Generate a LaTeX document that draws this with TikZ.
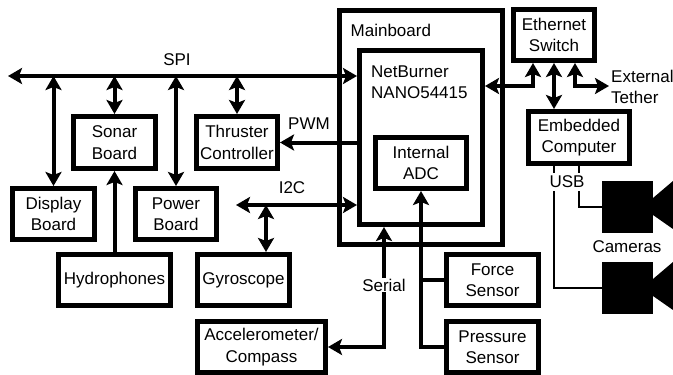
\documentclass[tikz,border=0pt]{standalone}
\usepackage{fontspec}
\setmainfont{Liberation Sans}
\usetikzlibrary{arrows.meta}
\tikzset{
 blockbox/.style={draw, line width=5, align=center, inner sep=0, font=\fontsize{17}{21.5}\selectfont},
 tag/.style={inner sep=1, align=left, font=\fontsize{17}{21.5}\selectfont},
 link/.style={line width=4, >={Stealth[length=14pt,width=16pt,inset=3pt]}},
 usbline/.style={line width=2.5},
}
\begin{document}
\begin{tikzpicture} [x=1pt, y=-1pt]
\useasboundingbox (0,0) rectangle (673,375);
\node[blockbox, minimum width=163, minimum height=234.5] (mainboard) at (421,127.5) {};
\node[blockbox, minimum width=123, minimum height=174] (netburner) at (421,137.5) {};
\node[blockbox, minimum width=91, minimum height=51] (adc) at (421,163) {Internal\\ADC};
\node[tag, anchor=west] (mainlabel) at (349.5,30) {Mainboard};
\node[tag, anchor=west] (netlabel) at (370,82) {NetBurner\\NANO54415};
\node[blockbox, minimum width=81, minimum height=51] (ethernet) at (554,35) {Ethernet\\Switch};
\node[blockbox, minimum width=101, minimum height=52] (computer) at (579,137.5) {Embedded\\Computer};
\node[blockbox, minimum width=82, minimum height=52] (sonar) at (114.5,142.5) {Sonar\\Board};
\node[blockbox, minimum width=81, minimum height=52] (thruster) at (237,142.5) {Thruster\\Controller};
\node[blockbox, minimum width=82, minimum height=51] (display) at (53.5,214) {Display\\Board};
\node[blockbox, minimum width=81, minimum height=51] (power) at (176,214) {Power\\Board};
\node[blockbox, minimum width=112, minimum height=51] (hydrophones) at (114.5,280) {Hydrophones};
\node[blockbox, minimum width=92, minimum height=51] (gyroscope) at (243.5,280) {Gyroscope};
\node[blockbox, minimum width=128, minimum height=51] (accel) at (261.5,347) {Accelerometer/\\Compass};
\node[blockbox, minimum width=92, minimum height=51] (force) at (492.5,280) {Force\\Sensor};
\node[blockbox, minimum width=92, minimum height=51] (pressure) at (492.5,347) {Pressure\\Sensor};
\coordinate (spiend) at (8,76);
\coordinate (ictwoend) at (236,205);
\coordinate (ictwotap) at (266,205);
\coordinate (ethtap) at (533,86);
\coordinate (tethertap) at (575,86);
\coordinate (tetherend) at (609,86);
\coordinate (serialtap) at (384,347);
\coordinate (sensortap) at (421,347);
\coordinate (camone) at (602,207);
\coordinate (camtwo) at (602,288);
\draw[link, <->] (spiend) -- (netburner.west |- spiend);
\foreach \board in {display, sonar, power, thruster} {
 \draw[link, <->] (\board.north |- spiend) -- (\board.north);
}
\node[tag] (spi) at (177,60) {SPI};
\draw[link, ->] (netburner.west |- thruster.east) -- (thruster.east);
\node[tag] (pwm) at (309,124) {PWM};
\draw[link, ->] (hydrophones.north) -- (sonar.south);
\draw[link, <->] (ictwoend) -- (netburner.west |- ictwoend);
\node[tag] (ictwo) at (292,188) {I2C};
\draw[link, <->] (ictwotap) -- (ictwotap |- gyroscope.north);
\draw[link, <->] (netburner.east |- ethtap) -- (ethtap) -- (ethtap |- ethernet.south);
\draw[link, <->] (ethernet.south) -- (ethernet.south |- computer.north);
\draw[link, <->] (tethertap |- ethernet.south) -- (tethertap) -- (tetherend);
\node[tag, anchor=west] (tether) at (610,87) {External\\Tether};
\draw[link, <->] (accel.east) -- (serialtap) -- (serialtap |- netburner.south);
\node[tag, fill=white] (serial) at (384,285) {Serial};
\draw[link, ->] (pressure.west) -- (sensortap) -- (adc.south);
\draw[link] (force.west) -- (force.west -| adc.south);
\foreach \y in {0, 81} {
 \fill[yshift=-\y] (602,181) rectangle (653,233);
 \fill[yshift=-\y] (653,198) -- (673,181) -- (673,229) -- (653,215) -- cycle;
}
\draw[usbline] (computer.south) -- (computer.south |- camone) -- (camone);
\draw[usbline] (ethernet.south |- computer.south) -- (ethernet.south |- camtwo) -- (camtwo);
\node[tag, fill=white, inner ysep=3] (usb) at (567,182) {USB};
\node[tag] (cameras) at (627,247) {Cameras};
\end{tikzpicture}
\end{document}
